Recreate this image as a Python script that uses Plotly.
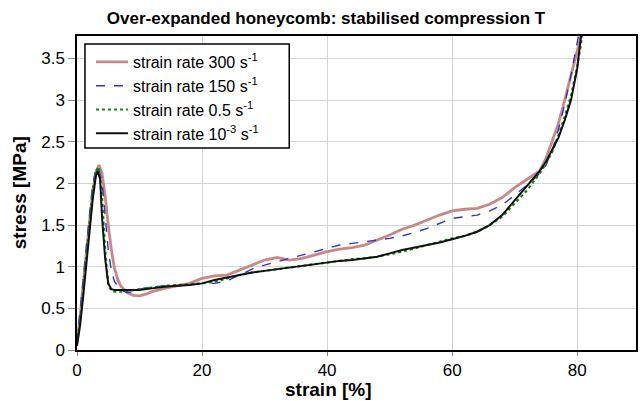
import plotly.graph_objects as go

# ---- data ----
labels = ["strain rate 300 s<sup>-1</sup>", "strain rate 150 s<sup>-1</sup>",
          "strain rate 0.5 s<sup>-1</sup>", "strain rate 10<sup>-3</sup> s<sup>-1</sup>"]

x300 = [0, 0.5, 1, 1.5, 2, 2.5, 3, 3.5, 4, 4.5, 5, 5.5, 6, 6.5, 7, 8, 9, 10, 11, 12, 14, 16, 18, 20,
        22, 24, 26, 28, 30, 32, 34, 36, 38, 40, 42, 44, 46, 48, 50, 52, 54, 56, 58, 60, 62, 64, 66, 68,
        70, 72, 74, 75, 76, 77, 78, 79, 80, 80.6]
y300 = [0.1, 0.4, 0.8, 1.15, 1.55, 1.9, 2.12, 2.22, 2.12, 1.85, 1.5, 1.2, 0.98, 0.85, 0.77, 0.69, 0.655,
        0.65, 0.67, 0.7, 0.74, 0.77, 0.8, 0.86, 0.89, 0.9, 0.96, 1.02, 1.08, 1.11, 1.08, 1.1, 1.14, 1.18,
        1.21, 1.23, 1.26, 1.32, 1.38, 1.45, 1.5, 1.56, 1.62, 1.67, 1.69, 1.7, 1.75, 1.83, 1.95, 2.05, 2.15,
        2.3, 2.5, 2.72, 3.0, 3.3, 3.6, 3.77]

x150 = [0, 0.5, 1, 1.5, 2, 2.5, 3, 3.4, 4, 4.5, 5, 5.5, 6, 7, 8, 9, 10, 12, 14, 16, 18, 20, 22, 24, 26,
        28, 30, 32, 34, 36, 38, 40, 42, 44, 46, 48, 50, 52, 54, 56, 58, 60, 62, 64, 66, 68, 70, 72, 74,
        75, 76, 77, 78, 79, 80.2]
y150 = [0.1, 0.45, 0.85, 1.25, 1.65, 1.98, 2.17, 2.2, 2.02, 1.6, 1.2, 0.95, 0.82, 0.72, 0.69, 0.7, 0.73,
        0.76, 0.77, 0.77, 0.78, 0.8, 0.8, 0.83, 0.9, 0.97, 1.02, 1.06, 1.1, 1.14, 1.18, 1.22, 1.26, 1.28,
        1.3, 1.32, 1.34, 1.37, 1.41, 1.46, 1.52, 1.58, 1.6, 1.62, 1.67, 1.74, 1.86, 1.98, 2.12, 2.22, 2.4,
        2.65, 2.95, 3.3, 3.77]

x05 = [0, 0.5, 1, 1.5, 2, 2.5, 3, 3.5, 4, 4.5, 5, 5.5, 6, 7, 8, 9, 10, 12, 14, 16, 18, 20, 22, 24, 26,
       28, 30, 32, 34, 36, 38, 40, 42, 44, 46, 48, 50, 52, 54, 56, 58, 60, 62, 64, 66, 68, 70, 72, 73,
       74, 75, 76, 77, 78, 79, 80, 80.8]
y05 = [0.08, 0.35, 0.75, 1.15, 1.55, 1.9, 2.15, 2.2, 1.85, 1.2, 0.78, 0.71, 0.7, 0.7, 0.71, 0.72, 0.73,
       0.75, 0.77, 0.78, 0.79, 0.8, 0.82, 0.86, 0.9, 0.93, 0.95, 0.97, 0.99, 1.01, 1.03, 1.05, 1.07, 1.09,
       1.1, 1.12, 1.15, 1.18, 1.22, 1.26, 1.3, 1.34, 1.37, 1.42, 1.5, 1.6, 1.76, 1.92, 2.02, 2.12, 2.24,
       2.38, 2.58, 2.8, 3.05, 3.4, 3.77]

x1e3 = [0, 0.5, 1, 1.5, 2, 2.5, 3, 3.3, 3.7, 4, 4.5, 5, 5.5, 6, 8, 10, 12, 14, 16, 18, 20, 22, 24, 26,
        28, 30, 32, 34, 36, 38, 40, 42, 44, 46, 48, 50, 52, 54, 56, 58, 60, 62, 64, 66, 68, 70, 72, 73,
        74, 75, 76, 77, 78, 79, 80, 80.6]
y1e3 = [0.05, 0.3, 0.65, 1.05, 1.45, 1.8, 2.08, 2.15, 2.05, 1.6, 1.1, 0.8, 0.73, 0.72, 0.72, 0.72, 0.74,
        0.76, 0.77, 0.78, 0.8, 0.84, 0.87, 0.9, 0.93, 0.95, 0.97, 0.99, 1.01, 1.03, 1.05, 1.07, 1.08, 1.1,
        1.12, 1.16, 1.2, 1.23, 1.26, 1.29, 1.33, 1.37, 1.42, 1.5, 1.62, 1.8, 1.97, 2.06, 2.15, 2.26, 2.4,
        2.55, 2.76, 3.0, 3.38, 3.77]

xtick_vals = [0, 20, 40, 60, 80]
ytick_vals = [0, 0.5, 1, 1.5, 2, 2.5, 3, 3.5]

series = [
    (x300, y300, dict(color="#c98888", width=2.8)),
    (x150, y150, dict(color="#3333cc", width=1.4, dash="dash")),
    (x05, y05, dict(color="#118811", width=2.2, dash="dot")),
    (x1e3, y1e3, dict(color="#111111", width=2)),
]

fig = go.Figure()
for (xs, ys, ln), name in zip(series, labels):
    fig.add_trace(go.Scatter(x=xs, y=ys, mode="lines", name=name, line=ln))

FONT = "Liberation Sans, Arial, sans-serif"
axis_common = dict(showgrid=True, gridcolor="#d4d4d4", gridwidth=1, showline=True, linecolor="black",
                   linewidth=1.5, mirror=True, ticks="outside", tickcolor="#888888", zeroline=False,
                   tickfont=dict(family=FONT, size=17, color="black"))

# plot area in pixels: x 77..638, y 36..350
PL, PW, PB, PH = 77, 561, 350, 314

fig.update_layout(
    width=641, height=401,
    margin=dict(l=77, r=3, t=36, b=51),
    paper_bgcolor="white", plot_bgcolor="white",
    font=dict(family=FONT, color="black"),
    title=dict(text="<b>Over-expanded honeycomb: stabilised compression T</b>",
               x=326 / 641, xref="container", xanchor="center",
               y=1 - 18 / 401, yref="container", yanchor="middle",
               font=dict(family=FONT, size=17, color="black")),
    xaxis=dict(range=[0, 89.4], tickvals=xtick_vals, ticklen=4, **axis_common),
    yaxis=dict(range=[0, 3.77], tickvals=ytick_vals, ticklen=7, **axis_common),
    legend=dict(x=(91 - PL) / PW, y=(PB - 45) / PH, xanchor="left", yanchor="top",
                bgcolor="rgba(0,0,0,0)", borderwidth=0, itemwidth=32,
                font=dict(family=FONT, size=16, color="black"), tracegroupgap=0),
    showlegend=True,
    shapes=[
        dict(type="rect", xref="paper", yref="paper", layer="above",
             x0=(85 - PL) / PW, x1=(290 - PL) / PW, y0=(PB - 148) / PH, y1=(PB - 44) / PH,
             line=dict(color="black", width=1.5), fillcolor="white"),
    ],
    annotations=[
        dict(text="<b>strain [%]</b>", x=(329 - PL) / PW, y=(PB - 389) / PH, xref="paper",
             yref="paper", showarrow=False, xanchor="center", yanchor="middle",
             font=dict(family=FONT, size=19, color="black")),
        dict(text="<b>stress [MPa]</b>", x=(19 - PL) / PW, y=0.5, xref="paper", yref="paper",
             showarrow=False, xanchor="center", yanchor="middle", textangle=-90,
             font=dict(family=FONT, size=19, color="black")),
    ],
)

fig.write_html("out.html")
